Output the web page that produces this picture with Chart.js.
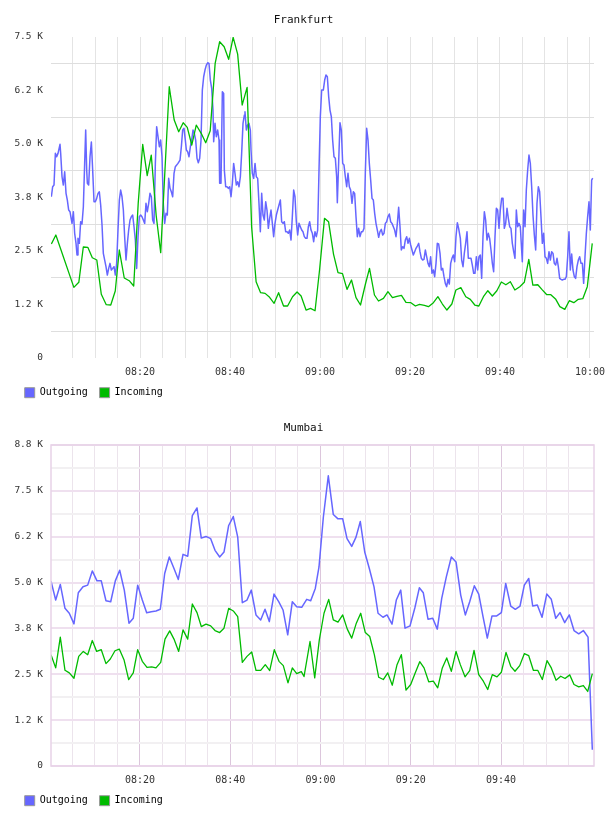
<!DOCTYPE html>
<html>
<head>
<meta charset="utf-8">
<title>Frankfurt / Mumbai</title>
<script src="https://cdn.jsdelivr.net/npm/chart.js@4.4.0/dist/chart.umd.min.js"></script>
<style>
  html, body { margin: 0; padding: 0; background: #fff; }
  canvas { display: block; }
</style>
</head>
<body>
<canvas id="frankfurtChart" width="608" height="408"></canvas>
<canvas id="mumbaiChart" width="608" height="408"></canvas>
<script>
// Dados: [minutos depois das 08:00, valor]
const frankfurtOutgoing = [
  [0.30,3768],[0.59,4002],[0.89,4041],[1.19,4781],[1.48,4703],[1.78,4781],[2.22,4992],[2.37,4781],[2.67,4235],[2.96,4041],
  [3.26,4352],[3.56,3847],[3.85,3691],[4.15,3457],[4.44,3418],[4.89,3146],[5.19,3418],[5.48,2913],[5.78,2679],[6.00,2406],
  [6.22,2796],[6.52,2679],[6.81,3185],[7.11,3130],[7.41,3535],[7.70,4547],[7.93,5326],[8.15,4392],[8.30,4081],[8.59,4041],
  [8.89,4703],[9.19,5046],[9.48,4392],[9.78,3652],[10.07,3652],[10.37,3730],[10.67,3847],[10.96,3885],[11.26,3574],[11.56,3107],
  [11.85,2445],[12.15,2289],[12.44,2133],[12.74,1939],[13.04,2094],[13.33,2211],[13.63,2056],[13.93,2094],[14.22,2133],[14.52,1939],
  [14.81,2211],[15.11,2990],[15.41,3691],[15.70,3924],[16.00,3768],[16.30,3457],[16.59,2835],[16.89,2289],[17.19,2679],[17.48,2990],
  [17.78,3224],[18.07,3302],[18.37,3340],[18.67,3067],[18.96,2756],[19.26,2094],[19.56,2835],[19.85,3302],[20.15,3340],[20.44,3302],
  [20.74,3224],[21.04,3146],[21.33,3613],[21.63,3418],[21.93,3613],[22.22,3847],[22.52,3768],[22.81,3224],[23.11,3146],[23.41,4547],
  [23.70,5404],[24.00,5170],[24.30,4936],[24.59,5092],[24.89,4703],[25.19,3574],[25.48,3146],[25.78,3380],[26.07,3340],[26.37,4197],
  [26.67,3964],[26.96,3885],[27.26,3768],[27.56,4314],[27.85,4470],[28.15,4508],[28.44,4547],[28.89,4625],[29.19,4936],[29.48,5326],
  [29.78,5366],[30.07,5092],[30.30,4859],[30.59,4819],[30.89,4703],[31.19,4936],[31.48,5092],[31.78,5326],[32.07,5248],[32.37,5092],
  [32.67,4665],[32.96,4562],[33.26,4665],[33.56,5092],[33.85,6260],[34.15,6571],[34.44,6728],[34.74,6844],[35.04,6898],[35.33,6883],
  [35.63,6494],[35.93,6300],[36.22,5793],[36.37,5053],[36.67,5482],[36.96,5170],[37.26,5326],[37.56,5092],[37.70,4081],[38.00,4081],
  [38.30,6221],[38.59,6183],[38.74,4392],[39.04,4002],[39.33,4002],[39.63,3964],[39.93,4002],[40.22,3768],[40.52,4081],[40.81,4547],
  [41.11,4314],[41.41,4041],[41.70,4119],[42.00,4002],[42.30,4235],[42.59,4781],[42.89,5482],[43.19,5676],[43.33,5754],[43.63,5326],
  [43.93,5443],[44.22,5482],[44.52,5326],[44.67,4859],[44.96,4314],[45.26,4197],[45.56,4547],[45.85,4235],[46.15,4197],[46.44,3613],
  [46.74,2951],[47.04,3847],[47.33,3340],[47.63,3224],[47.93,3652],[48.22,3457],[48.52,3029],[48.81,3263],[49.11,3457],[49.41,3146],
  [49.70,2835],[50.00,3146],[50.30,3340],[50.59,3457],[50.89,3574],[51.19,3691],[51.48,3185],[51.78,3146],[52.07,3185],[52.37,2951],
  [52.67,2951],[52.96,2913],[53.26,2990],[53.56,2756],[53.85,3302],[54.15,3924],[54.44,3768],[54.74,3185],[55.04,2873],[55.33,3146],
  [55.63,3067],[55.93,2990],[56.22,2951],[56.52,2835],[56.81,2796],[57.11,2796],[57.41,3067],[57.70,3185],[58.00,2990],[58.30,2913],
  [58.59,2718],[58.89,2951],[59.19,2835],[59.48,2990],[59.78,4392],[60.07,5637],[60.37,6260],[60.74,6260],[61.04,6494],[61.33,6611],
  [61.63,6571],[61.93,6104],[62.22,5793],[62.52,5637],[62.81,5092],[63.11,4703],[63.41,4665],[63.70,4235],[63.85,3628],[64.15,4586],
  [64.44,5497],[64.74,5326],[65.04,4547],[65.33,4508],[65.63,4235],[65.93,4002],[66.22,4314],[66.52,4002],[66.81,3924],[67.11,3613],
  [67.41,3885],[67.70,3847],[68.00,3302],[68.30,2835],[68.59,3029],[68.89,2835],[69.19,2951],[69.48,2951],[69.78,3029],[70.07,4314],
  [70.37,5366],[70.67,5092],[70.96,4547],[71.26,4158],[71.56,3730],[71.85,3691],[72.15,3380],[72.44,3146],[72.74,2990],[73.04,2819],
  [73.33,2951],[73.63,3006],[73.93,2873],[74.22,2913],[74.52,3146],[74.81,3185],[75.11,3302],[75.41,3364],[75.70,3185],[76.00,3146],
  [76.30,3067],[76.59,2990],[76.89,2835],[77.19,3146],[77.48,3520],[77.78,3067],[78.07,2523],[78.37,2600],[78.67,2562],[78.96,2756],
  [79.26,2835],[79.56,2679],[79.85,2796],[80.15,2640],[80.44,2523],[80.74,2406],[81.04,2484],[81.33,2562],[81.63,2616],[81.93,2679],
  [82.22,2484],[82.52,2329],[82.81,2289],[83.11,2305],[83.41,2523],[83.70,2367],[84.00,2211],[84.30,2133],[84.59,2367],[84.89,1978],
  [85.19,2056],[85.48,1900],[85.78,2211],[86.07,2679],[86.37,2663],[86.67,2445],[86.96,2056],[87.26,2094],[87.56,1900],[87.85,1744],
  [88.15,1666],[88.44,1838],[88.74,1729],[89.04,2211],[89.33,2329],[89.63,2406],[89.93,2250],[90.22,2835],[90.52,3161],[90.81,3029],
  [91.19,2796],[91.48,2289],[91.78,2133],[92.07,2445],[92.37,2679],[92.67,2951],[92.96,2329],[93.26,2329],[93.56,2329],[93.85,2172],
  [94.15,1978],[94.44,1978],[94.74,2367],[95.04,2056],[95.33,2367],[95.63,2406],[95.93,1861],[96.22,2835],[96.52,3418],[96.81,3224],
  [97.11,2756],[97.41,2913],[97.70,2796],[98.00,2523],[98.30,2211],[98.59,2016],[98.89,2835],[99.19,3497],[99.48,3457],[99.78,3029],
  [100.07,3457],[100.37,3730],[100.67,3730],[100.96,3029],[101.26,3146],[101.56,3497],[101.85,3263],[102.15,3067],[102.44,3029],[102.74,2679],
  [103.04,2484],[103.33,2329],[103.63,3457],[103.93,3067],[104.22,3146],[104.52,3067],[104.81,2523],[104.96,2250],[105.26,3457],[105.56,3067],
  [105.85,3924],[106.15,4392],[106.44,4742],[106.74,4547],[107.04,4002],[107.33,3340],[107.63,2873],[107.93,2523],[108.22,3613],[108.52,4002],
  [108.81,3885],[109.11,3302],[109.41,2679],[109.70,2913],[110.00,2367],[110.30,2329],[110.59,2211],[110.89,2484],[111.19,2289],[111.48,2484],
  [111.78,2445],[112.07,2211],[112.37,2172],[112.67,2329],[112.96,2133],[113.26,1861],[113.56,1838],[113.85,1822],[114.15,1838],[114.44,1838],
  [114.74,1900],[115.04,2367],[115.33,2951],[115.63,2056],[115.93,2429],[116.22,2056],[116.52,1900],[116.81,1861],[117.11,2133],[117.41,2289],
  [117.70,2367],[118.00,2211],[118.30,2211],[118.59,1744],[118.89,2367],[119.19,2913],[119.48,3302],[119.78,3652],[120.07,2990],[120.37,4158],
  [120.60,4200]
];

const frankfurtIncoming = [
  [0.3,2663],[1.3,2873],[5.3,1651],[6.4,1768],[7.4,2593],[8.4,2585],[9.4,2343],[10.4,2290],[11.4,1488],[12.5,1245],
  [13.5,1238],[14.5,1565],[15.4,2523],[16.5,1869],[17.6,1806],[18.6,1682],[19.6,3614],[20.6,4992],[21.6,4259],[22.5,4742],
  [23.6,3324],[24.6,2460],[26.5,6338],[27.6,5560],[28.6,5287],[29.6,5497],[30.5,5389],[31.5,4976],[32.5,5443],[33.6,5249],
  [34.6,5030],[35.6,5311],[36.7,6884],[37.7,7389],[38.7,7272],[39.7,6978],[40.7,7491],[41.7,7101],[42.7,5910],[43.8,6323],
  [44.8,3068],[45.8,1783],[46.8,1526],[47.8,1510],[48.8,1417],[49.8,1277],[50.8,1526],[51.9,1215],[52.8,1215],[53.9,1432],
  [54.9,1542],[55.8,1448],[56.9,1121],[57.9,1160],[58.9,1105],[59.9,2056],[61.0,3263],[61.9,3185],[63.0,2429],[64.0,1993],
  [65.0,1970],[66.0,1604],[67.0,1822],[68.0,1409],[69.0,1238],[70.1,1729],[71.0,2095],[72.1,1472],[73.0,1332],[74.1,1394],
  [75.1,1549],[76.1,1409],[77.1,1441],[78.1,1464],[79.1,1301],[80.2,1292],[81.2,1215],[82.1,1254],[83.2,1231],[84.1,1199],
  [85.2,1292],[86.2,1432],[87.2,1261],[88.2,1121],[89.3,1261],[90.2,1588],[91.3,1643],[92.4,1432],[93.4,1371],[94.4,1238],
  [95.3,1215],[96.4,1448],[97.3,1572],[98.3,1448],[99.3,1572],[100.3,1775],[101.3,1712],[102.3,1783],[103.3,1588],[104.4,1666],
  [105.4,1768],[106.4,2305],[107.3,1705],[108.4,1712],[109.3,1604],[110.4,1479],[111.3,1479],[112.4,1371],[113.3,1199],[114.4,1137],
  [115.4,1339],[116.4,1292],[117.4,1371],[118.4,1385],[119.4,1666],[120.5,2679]
];

const mumbaiOutgoing = [
  [0.29,5039],[1.33,4524],[2.35,4949],[3.39,4299],[4.34,4164],[5.38,3874],[6.34,4722],[7.38,4884],[8.42,4930],[9.44,5318],
  [10.48,5047],[11.43,5047],[12.47,4505],[13.52,4478],[14.54,5047],[15.51,5337],[16.53,4795],[17.57,3893],[18.52,4028],[19.50,4930],
  [20.52,4524],[21.49,4180],[22.51,4207],[23.55,4226],[24.51,4272],[25.48,5247],[26.50,5697],[27.54,5383],[28.50,5085],[29.54,5770],
  [30.58,5716],[31.60,6827],[32.64,7035],[33.59,6212],[34.63,6258],[35.67,6196],[36.63,5879],[37.67,5697],[38.62,5833],[39.66,6556],
  [40.68,6800],[41.66,6239],[42.68,4451],[43.72,4524],[44.67,4795],[45.71,4118],[46.75,3982],[47.71,4272],[48.66,3936],[49.70,4687],
  [50.74,4478],[51.70,4253],[52.74,3576],[53.76,4478],[54.73,4343],[55.84,4326],[56.95,4543],[57.83,4505],[58.85,4841],[59.67,5426],
  [60.63,6781],[61.73,7910],[62.84,6854],[63.88,6737],[64.92,6737],[65.88,6196],[66.92,5987],[67.87,6239],[68.82,6664],[69.80,5833],
  [70.82,5383],[71.86,4884],[72.75,4164],[73.85,4055],[74.74,4118],[75.85,3866],[76.80,4524],[77.78,4795],[78.73,3757],[79.84,3820],
  [80.90,4307],[81.90,4857],[82.78,4722],[83.82,4001],[84.87,4028],[85.88,3730],[86.86,4570],[87.88,5155],[88.99,5697],[90.03,5562],
  [91.07,4659],[92.09,4118],[93.06,4478],[94.08,4911],[95.06,4687],[96.01,4072],[96.96,3486],[98.00,4091],[99.05,4091],[100.07,4180],
  [101.04,4976],[102.15,4361],[103.17,4272],[104.21,4361],[105.16,4930],[106.14,5112],[107.02,4361],[108.04,4389],[109.09,4055],[110.13,4687],
  [111.14,4543],[112.12,4028],[113.07,4180],[114.11,3909],[115.13,4118],[116.17,3692],[117.22,3603],[118.24,3692],[119.28,3514],[120.23,442]
];

const mumbaiIncoming = [
  [0.29,3034],[1.33,2674],[2.35,3514],[3.39,2609],[4.34,2538],[5.38,2392],[6.43,2988],[7.45,3123],[8.42,3034],[9.44,3421],
  [10.41,3123],[11.43,3170],[12.47,2790],[13.43,2918],[14.47,3142],[15.42,3188],[16.46,2899],[17.50,2357],[18.52,2538],[19.50,3170],
  [20.52,2853],[21.56,2690],[22.60,2701],[23.55,2674],[24.60,2825],[25.55,3459],[26.59,3684],[27.54,3459],[28.58,3123],[29.54,3711],
  [30.58,3459],[31.60,4416],[32.64,4180],[33.59,3801],[34.63,3866],[35.67,3820],[36.63,3692],[37.67,3638],[38.62,3757],[39.66,4299],
  [40.68,4226],[41.66,4072],[42.68,2825],[43.72,2988],[44.76,3107],[45.71,2609],[46.75,2609],[47.77,2763],[48.75,2601],[49.77,3170],
  [50.81,2853],[51.76,2736],[52.80,2267],[53.76,2674],[54.73,2519],[55.75,2574],[56.35,2438],[57.68,3394],[58.72,2403],[59.74,3440],
  [60.78,4164],[61.82,4543],[62.84,3982],[63.88,3920],[64.92,4118],[65.94,3730],[66.92,3486],[67.94,3893],[68.91,4164],[69.93,3638],
  [70.91,3530],[71.93,3034],[72.90,2419],[73.92,2357],[74.90,2538],[75.91,2202],[76.96,2763],[77.91,3034],[78.95,2067],[79.99,2221],
  [80.94,2519],[81.99,2844],[82.94,2674],[83.98,2295],[85.00,2311],[85.97,2132],[86.99,2674],[87.97,2945],[88.99,2582],[90.03,3123],
  [90.98,2763],[92.02,2430],[93.06,2601],[94.02,3151],[95.06,2492],[96.08,2311],[97.05,2086],[98.07,2492],[99.11,2430],[100.07,2555],
  [101.11,3096],[102.15,2717],[103.10,2582],[104.14,2736],[105.16,3061],[106.14,3007],[107.16,2609],[108.13,2609],[109.15,2357],[110.19,2872],
  [111.14,2674],[112.19,2338],[113.23,2446],[114.18,2384],[115.22,2484],[116.17,2221],[117.22,2159],[118.24,2194],[119.21,2032],[120.23,2519]
];

// Eixo x: linhas a cada 5 minutos, rotulos a cada 20
const frankfurtGridMinutes = [5,10,15,20,25,30,35,40,45,50,55,60,65,70,75,80,85,90,95,100,105,110,115,120];
const mumbaiGridMinutes = [5,10,15,20,25,30,35,40,45,50,55,60,65,70,75,80,85,90,95,100,105,110,115];
const frankfurtTimeTicks = [20,40,60,80,100,120];
const frankfurtTimeLabels = ['08:20','08:40','09:00','09:20','09:40','10:00'];
const mumbaiTimeTicks = [20,40,60,80,100];
const mumbaiTimeLabels = ['08:20','08:40','09:00','09:20','09:40'];

// Eixo y: linhas a cada 625, rotulos a cada 1250
const frankfurtGridValues = [0,625,1250,1875,2500,3125,3750,4375,5000,5625,6250,6875,7500];
const frankfurtValueLabels = ['0','1.2 K','2.5 K','3.8 K','5.0 K','6.2 K','7.5 K'];
const mumbaiGridValues = [0,625,1250,1875,2500,3125,3750,4375,5000,5625,6250,6875,7500,8125,8750];
const mumbaiValueLabels = ['0','1.2 K','2.5 K','3.8 K','5.0 K','6.2 K','7.5 K','8.8 K'];

const FONT = '"DejaVu Sans Mono", monospace';
const BLUE = '#6666ff';
const GREEN = '#00bb00';

// Moldura lilas em volta da area do grafico (so Mumbai)
const plotFrame = {
    id: 'plotFrame',
    afterDraw(chart, args, opts) {
        if (!opts.color) return;
        const a = chart.chartArea;
        const ctx = chart.ctx;
        ctx.save();
        ctx.strokeStyle = opts.color;
        ctx.lineWidth = 1.5;
        ctx.strokeRect(a.left, a.top, a.right - a.left, a.bottom - a.top);
        ctx.restore();
    }
};

function toPoints(series) {
    return series.map(p => ({ x: p[0], y: p[1] }));
}

function createTrafficChart(id, cfg) {
    const ctx = document.getElementById(id);
    return new Chart(ctx, {
        type: 'line',
        data: {
            datasets: [
                {
                    label: 'Outgoing',
                    data: toPoints(cfg.outgoing),
                    borderColor: BLUE,
                    backgroundColor: BLUE,
                    borderWidth: 1.5,
                    borderJoinStyle: 'round',
                    pointRadius: 0,
                    tension: 0,
                    order: 1
                },
                {
                    label: 'Incoming',
                    data: toPoints(cfg.incoming),
                    borderColor: GREEN,
                    backgroundColor: GREEN,
                    borderWidth: 1.3,
                    borderJoinStyle: 'round',
                    pointRadius: 0,
                    tension: 0,
                    order: 0
                }
            ]
        },
        options: {
            responsive: false,
            animation: false,
            layout: { padding: { left: 13, right: 14, top: 0, bottom: 0.3 } },
            plugins: {
                title: {
                    display: true,
                    text: cfg.title,
                    color: '#111',
                    font: { family: FONT, size: 11, weight: 'normal' },
                    padding: { top: 13.4, bottom: 10.4 }
                },
                legend: {
                    position: 'bottom',
                    align: 'start',
                    labels: {
                        boxWidth: 10,
                        boxHeight: 10,
                        padding: 11.7,
                        color: '#222',
                        font: { family: FONT, size: 10 },
                        generateLabels: chart => chart.data.datasets.map((ds, i) => ({
                            text: ds.label,
                            fillStyle: ds.borderColor,
                            strokeStyle: '#999',
                            lineWidth: 1,
                            hidden: false,
                            datasetIndex: i
                        }))
                    }
                },
                tooltip: { enabled: false },
                plotFrame: { color: cfg.frameColor }
            },
            scales: {
                x: {
                    type: 'linear',
                    min: cfg.xMin,
                    max: cfg.xMax,
                    afterBuildTicks: s => { s.ticks = cfg.gridMinutes.map(v => ({ value: v })); },
                    afterFit: s => { s.height = 18; s.paddingLeft = 0; s.paddingRight = 0; },
                    grid: { color: cfg.xGridColor, lineWidth: 1, drawTicks: false },
                    border: { display: false },
                    ticks: {
                        autoSkip: false,
                        maxRotation: 0,
                        minRotation: 0,
                        padding: 8.3,
                        color: '#333',
                        font: { family: FONT, size: 10 },
                        callback: v => {
                            const i = cfg.timeTicks.indexOf(v);
                            return i >= 0 ? cfg.timeLabels[i] : '';
                        }
                    }
                },
                y: {
                    min: 0,
                    max: cfg.yMax,
                    afterBuildTicks: s => { s.ticks = cfg.gridValues.map(v => ({ value: v })); },
                    afterFit: s => { s.width = 38; },
                    grid: { color: cfg.yGridColor, lineWidth: cfg.yGridWidth, drawTicks: false },
                    border: { display: false },
                    ticks: {
                        autoSkip: false,
                        padding: 8,
                        color: '#333',
                        font: { family: FONT, size: 9.5 },
                        callback: (v, i) => (i % 2 ? '' : cfg.valueLabels[i / 2])
                    }
                }
            }
        },
        plugins: [plotFrame]
    });
}

document.addEventListener('DOMContentLoaded', function() {
    createTrafficChart('frankfurtChart', {
        title: 'Frankfurt',
        outgoing: frankfurtOutgoing,
        incoming: frankfurtIncoming,
        xMin: 0.22,
        xMax: 120.89,
        gridMinutes: frankfurtGridMinutes,
        timeTicks: frankfurtTimeTicks,
        timeLabels: frankfurtTimeLabels,
        yMax: 7500,
        gridValues: frankfurtGridValues,
        valueLabels: frankfurtValueLabels,
        xGridColor: '#e4e4e4',
        yGridColor: c => (c.index % 2 ? '#dedede' : 'rgba(0,0,0,0)'),
        yGridWidth: 1,
        frameColor: null
    });

    createTrafficChart('mumbaiChart', {
        title: 'Mumbai',
        outgoing: mumbaiOutgoing,
        incoming: mumbaiIncoming,
        xMin: 0.29,
        xMax: 120.6,
        gridMinutes: mumbaiGridMinutes,
        timeTicks: mumbaiTimeTicks,
        timeLabels: mumbaiTimeLabels,
        yMax: 8750,
        gridValues: mumbaiGridValues,
        valueLabels: mumbaiValueLabels,
        xGridColor: c => (c.tick.value % 20 === 0 ? '#dcc6dc' : '#ece4ec'),
        yGridColor: c => (c.index % 2 ? '#f2f0f2' : '#efe0ef'),
        yGridWidth: 2,
        frameColor: '#e8d2e8'
    });
});
</script>
</body>
</html>
